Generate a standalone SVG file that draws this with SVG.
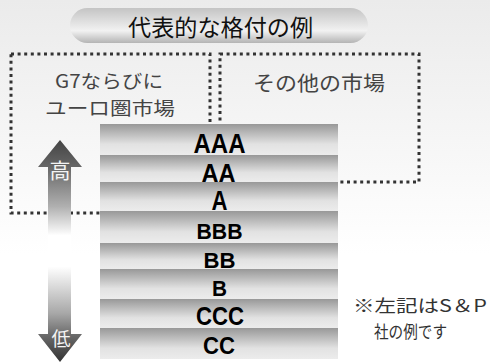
<svg xmlns="http://www.w3.org/2000/svg" width="490" height="363" viewBox="0 0 490 363">
  <defs>
    <linearGradient id="bg" x1="0" y1="0" x2="0" y2="1">
      <stop offset="0" stop-color="#ebebeb"/>
      <stop offset="0.7" stop-color="#ffffff"/>
      <stop offset="1" stop-color="#ffffff"/>
    </linearGradient>
    <linearGradient id="pill" x1="0" y1="0" x2="0" y2="1">
      <stop offset="0" stop-color="#c4c4c4"/>
      <stop offset="0.65" stop-color="#f2f2f2"/>
      <stop offset="1" stop-color="#b4b4b4"/>
    </linearGradient>
    <linearGradient id="row" x1="0" y1="0" x2="0" y2="1">
      <stop offset="0" stop-color="#989898"/>
      <stop offset="0.65" stop-color="#e2e2e2"/>
      <stop offset="1" stop-color="#ececec"/>
    </linearGradient>
    <linearGradient id="arr" gradientUnits="userSpaceOnUse" x1="0" y1="140" x2="0" y2="362">
      <stop offset="0" stop-color="#444444"/>
      <stop offset="0.12" stop-color="#666666"/>
      <stop offset="0.3" stop-color="#b0b0b0"/>
      <stop offset="0.43" stop-color="#ffffff"/>
      <stop offset="0.57" stop-color="#ffffff"/>
      <stop offset="0.78" stop-color="#a8a8a8"/>
      <stop offset="0.88" stop-color="#6a6a6a"/>
      <stop offset="1" stop-color="#333333"/>
    </linearGradient>
  </defs>
  <style>
    .jp { font-family: "Noto Sans CJK JP", "Noto Sans", sans-serif; }
    .lbl { fill: #444444; }
    .dot { fill: none; stroke: #333333; stroke-width: 3; stroke-dasharray: 3 3.6; }
    .row { fill: url(#row); }
    .rt { font-family: "Liberation Sans", Arial, sans-serif; font-weight: bold; fill: #000000; text-anchor: middle; }
    .note { fill: #333333; }
    .arrt { fill: #f4f4f4; text-anchor: middle; }
  </style>
  <rect x="0" y="0" width="490" height="363" fill="url(#bg)"/>

  <g id="title">
    <rect x="70" y="8" width="298" height="35" rx="17.5" ry="17.5" fill="url(#pill)"/>
    <text class="jp" x="128" y="36" font-size="23" fill="#111111" textLength="185" lengthAdjust="spacingAndGlyphs">代表的な格付の例</text>
  </g>

  <g id="connectors">
    <path class="dot" d="M11 54 H210 V213 H11 Z"/>
    <path class="dot" d="M220 54 H419 V182 H220 Z"/>
  </g>

  <g id="left-market">
    <text class="jp lbl" x="55" y="88" font-size="18.5" textLength="108" lengthAdjust="spacingAndGlyphs">G7ならびに</text>
    <text class="jp lbl" x="45" y="115" font-size="18.5" textLength="130" lengthAdjust="spacingAndGlyphs">ユーロ圏市場</text>
  </g>

  <g id="right-market">
    <text class="jp lbl" x="253" y="91" font-size="20" textLength="132" lengthAdjust="spacingAndGlyphs">その他の市場</text>
  </g>

  <g id="ratings">
    <rect class="row" x="100" y="124" width="238" height="31"/>
    <rect class="row" x="100" y="155" width="238" height="27"/>
    <rect class="row" x="100" y="182" width="238" height="29"/>
    <rect class="row" x="100" y="211" width="238" height="32"/>
    <rect class="row" x="100" y="243" width="238" height="26"/>
    <rect class="row" x="100" y="269" width="238" height="30"/>
    <rect class="row" x="100" y="299" width="238" height="29"/>
    <rect class="row" x="100" y="328" width="238" height="31"/>
    <text class="rt" x="219.5" y="152.5" font-size="27" textLength="52" lengthAdjust="spacingAndGlyphs">AAA</text>
    <text class="rt" x="218.5" y="181.5" font-size="25" textLength="34" lengthAdjust="spacingAndGlyphs">AA</text>
    <text class="rt" x="219.5" y="210" font-size="27" textLength="16" lengthAdjust="spacingAndGlyphs">A</text>
    <text class="rt" x="219.5" y="238.5" font-size="22" textLength="46" lengthAdjust="spacingAndGlyphs">BBB</text>
    <text class="rt" x="219.5" y="267.5" font-size="22" textLength="32" lengthAdjust="spacingAndGlyphs">BB</text>
    <text class="rt" x="219.5" y="295.5" font-size="22" textLength="15" lengthAdjust="spacingAndGlyphs">B</text>
    <text class="rt" x="220" y="324.5" font-size="25" textLength="48" lengthAdjust="spacingAndGlyphs">CCC</text>
    <text class="rt" x="219" y="354" font-size="24" textLength="32" lengthAdjust="spacingAndGlyphs">CC</text>
  </g>

  <g id="scale-arrow">
    <path d="M60 140 L82 167 H71 V334 H82 L60 362 L38 334 H48 V167 H38 Z" fill="url(#arr)"/>
    <text class="jp arrt" x="60" y="178" font-size="21">高</text>
    <text class="jp arrt" x="61" y="346" font-size="19">低</text>
  </g>

  <g id="note">
    <text class="jp note" x="353" y="311.5" font-size="17" textLength="134" lengthAdjust="spacingAndGlyphs">※左記はS＆P</text>
    <text class="jp note" x="374" y="337.5" font-size="17.5" textLength="73" lengthAdjust="spacingAndGlyphs">社の例です</text>
  </g>
</svg>
